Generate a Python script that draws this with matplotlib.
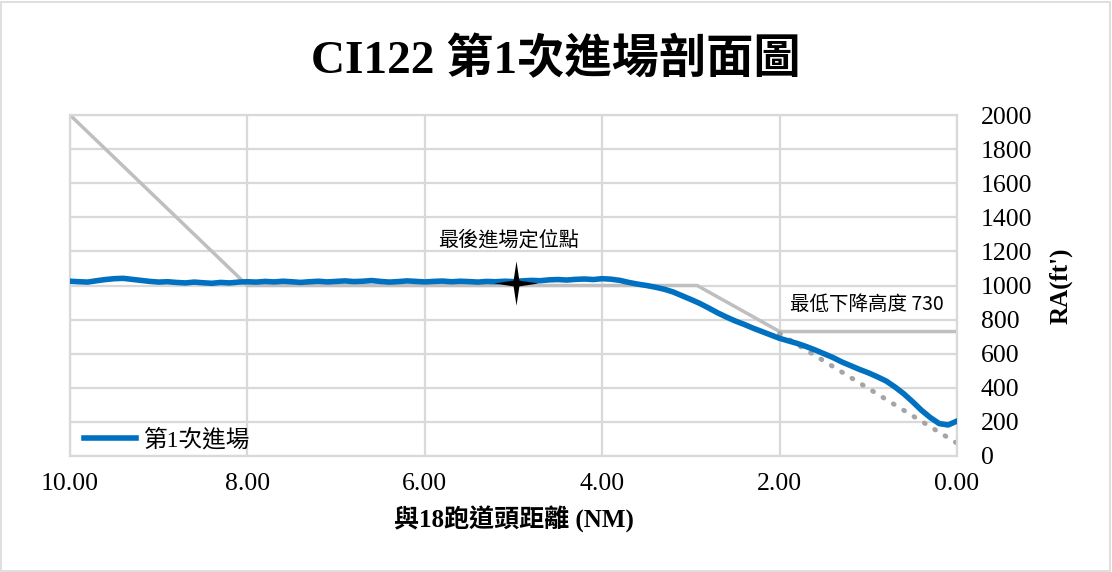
import matplotlib
matplotlib.use("Agg")
import matplotlib.pyplot as plt
from matplotlib.path import Path
from matplotlib.patches import Rectangle

plt.rcParams['font.family'] = ['Liberation Serif', 'Noto Sans CJK TC', 'DejaVu Sans']

# ---- data ----
dist = [10.0, 9.9, 9.8, 9.7, 9.6, 9.5, 9.4, 9.3, 9.2, 9.1,
        9.0, 8.9, 8.8, 8.7, 8.6, 8.5, 8.4, 8.3, 8.2, 8.1,
        8.0, 7.9, 7.8, 7.7, 7.6, 7.5, 7.4, 7.3, 7.2, 7.1,
        7.0, 6.9, 6.8, 6.7, 6.6, 6.5, 6.4, 6.3, 6.2, 6.1,
        6.0, 5.9, 5.8, 5.7, 5.6, 5.5, 5.4, 5.3, 5.2, 5.1,
        5.0, 4.9, 4.8, 4.7, 4.6, 4.5, 4.4, 4.3, 4.2, 4.1,
        4.0, 3.9, 3.8, 3.7, 3.6, 3.5, 3.4, 3.3, 3.2, 3.1,
        3.0, 2.9, 2.8, 2.7, 2.6, 2.5, 2.4, 2.3, 2.2, 2.1,
        2.0, 1.9, 1.8, 1.7, 1.6, 1.5, 1.4, 1.3, 1.2, 1.1,
        1.0, 0.9, 0.8, 0.7, 0.6, 0.5, 0.4, 0.3, 0.2, 0.1, 0.0]
ra_first = [1025, 1022, 1020, 1028, 1035, 1040, 1042, 1036, 1030, 1024,
            1020, 1022, 1018, 1015, 1020, 1016, 1013, 1018, 1015, 1020,
            1022, 1020, 1024, 1021, 1025, 1022, 1018, 1022, 1025, 1021,
            1024, 1027, 1023, 1025, 1029, 1024, 1020, 1023, 1027, 1024,
            1021, 1024, 1026, 1022, 1025, 1023, 1020, 1024, 1022, 1025,
            1023, 1027, 1030, 1028, 1033, 1035, 1032, 1036, 1038, 1035,
            1040, 1037, 1030, 1018, 1008, 1000, 990, 978, 962, 940,
            918, 895, 868, 840, 815, 792, 772, 750, 730, 710,
            690, 675, 660, 642, 622, 600, 578, 552, 530, 508,
            488, 465, 440, 405, 365, 318, 268, 225, 190, 182, 205]

profile_x = [10.0, 8.0, 2.93, 2.0, 0.0]
profile_y = [2000, 1000, 1000, 730, 730]

glide_x = [2.0, 0.0]
glide_y = [718, 75]

faf_x, faf_y = 4.97, 1015
faf_label = "最後進場定位點"
mda_label = "最低下降高度 730"
series_name = "第1次進場"
title = "CI122 第1次進場剖面圖"
xlabel = "與18跑道頭距離 (NM)"
ylabel = "RA(ft')"
xticks = [10, 8, 6, 4, 2, 0]
yticks = list(range(0, 2001, 200))

# ---- figure ----
fig = plt.figure(figsize=(11.12, 5.72), dpi=100)
fig.patches.append(Rectangle((0.001, 0.002), 0.997, 0.995, transform=fig.transFigure,
                             fill=False, edgecolor='#d9d9d9', linewidth=1.2))
ax = fig.add_axes([70/1112, 116/572, 887/1112, 341/572])

ax.set_xlim(10, 0)
ax.set_ylim(0, 2000)
ax.set_xticks(xticks)
ax.set_xticklabels([f"{v:.2f}" for v in xticks])
ax.set_yticks(yticks)
ax.yaxis.tick_right()
ax.yaxis.set_label_position('right')
ax.tick_params(axis='both', length=0, labelsize=18.5)
ax.tick_params(axis='x', pad=12)
ax.tick_params(axis='y', pad=17)
ax.grid(True, color='#d9d9d9', linewidth=1.6)
ax.set_axisbelow(True)
for s in ax.spines.values():
    s.set_color('#d9d9d9')
    s.set_linewidth(1.6)

ax.plot(profile_x, profile_y, color='#bfbfbf', linewidth=2.5, zorder=2)
ax.plot(glide_x, glide_y, color='#a5a5a5', linewidth=3.5, linestyle=(0, (0.2, 2.3)),
        dash_capstyle='round', zorder=2)
ax.plot(dist, ra_first, color='#0070c0', linewidth=4, solid_joinstyle='round',
        label=series_name, zorder=3)

star = Path([(0, 1), (0.13, 0.13), (1, 0), (0.13, -0.13), (0, -1),
             (-0.13, -0.13), (-1, 0), (-0.13, 0.13), (0, 1)],
            [Path.MOVETO] + [Path.LINETO] * 7 + [Path.CLOSEPOLY])
ax.plot([faf_x], [faf_y], marker=star, markersize=32, color='black',
        markeredgewidth=0, linestyle='none', zorder=4)

ax.text(5.06, 1265, faf_label, ha='center', va='center', fontsize=14.5,
        family=['Noto Sans CJK TC', 'Liberation Serif'])
ax.text(1.88, 886, mda_label, ha='left', va='center', fontsize=14,
        family=['Noto Sans CJK TC', 'Liberation Serif'])

leg = ax.legend(loc='lower left', frameon=False, fontsize=17, handlelength=2.2,
                borderaxespad=0.1, bbox_to_anchor=(0.003, -0.02), handletextpad=0.3)

ax.set_xlabel(xlabel, fontsize=18, fontweight='bold', labelpad=8)
ax.set_ylabel(ylabel, fontsize=18, fontweight='bold', labelpad=12)

fig.text(0.5, 0.895, title, ha='center', va='center', fontsize=34, fontweight='bold')

fig.savefig('out.png', dpi=100)
